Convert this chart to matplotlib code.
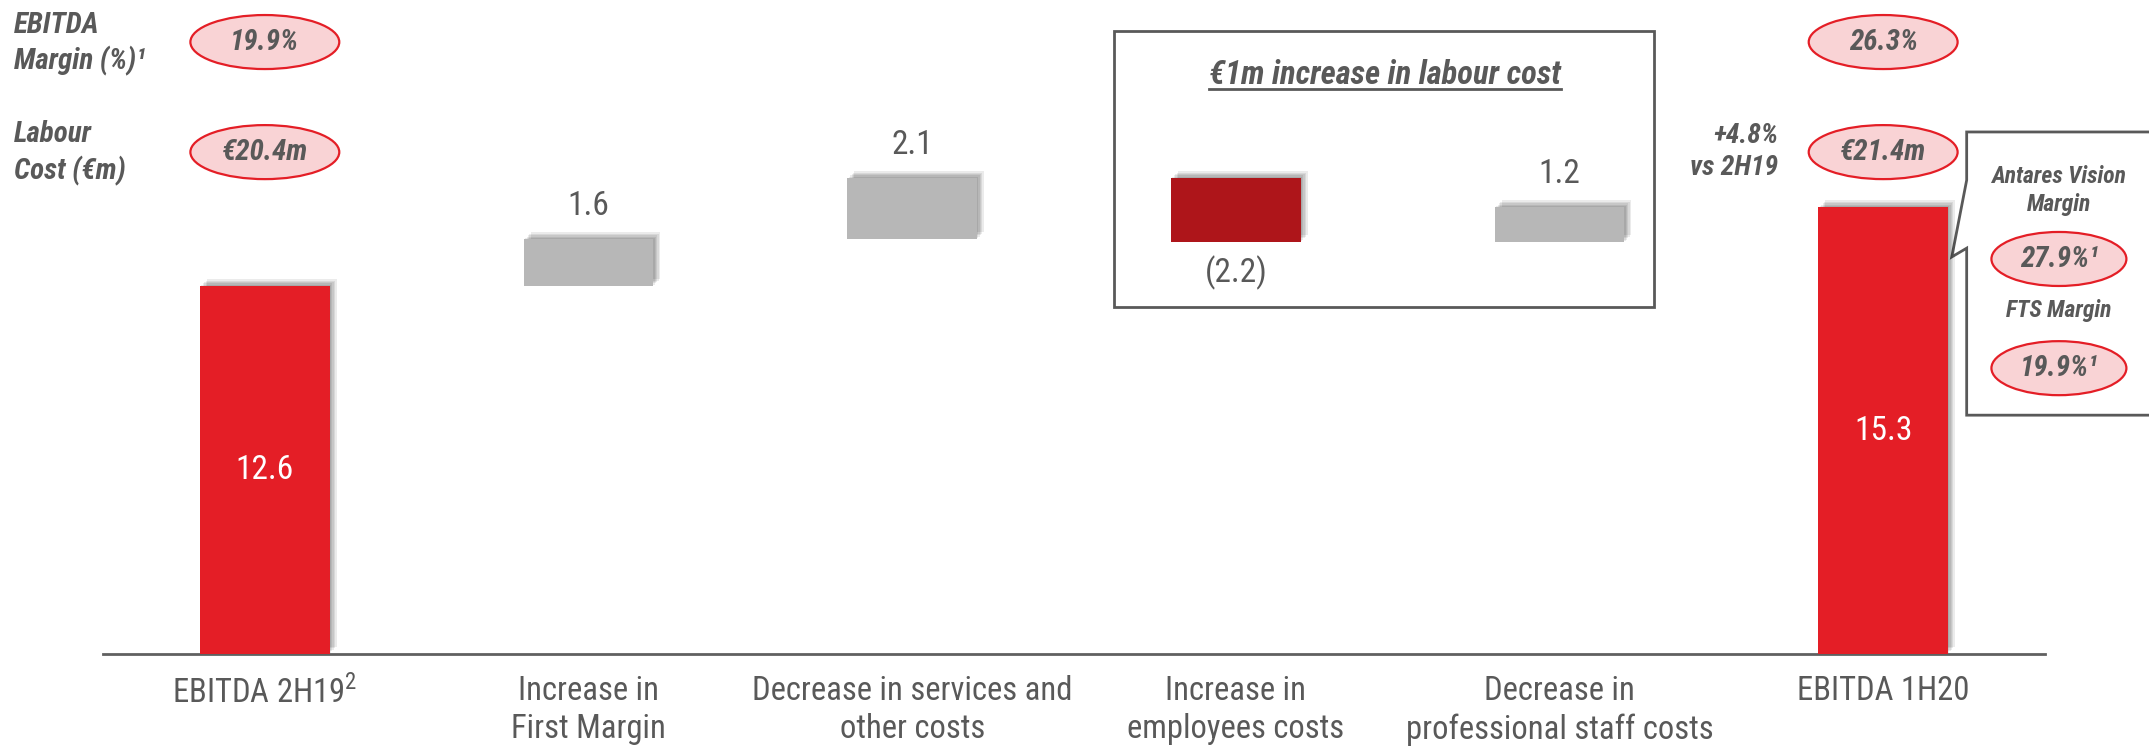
import matplotlib
matplotlib.use('Agg')
import matplotlib.pyplot as plt
import matplotlib.patheffects as pe
from matplotlib import font_manager
from matplotlib.patches import Ellipse, Rectangle, Polygon

# pick a condensed face if one is installed
names = {f.name for f in font_manager.fontManager.ttflist}
for cand in ['Roboto Condensed', 'Liberation Sans Narrow', 'Roboto']:
    if cand in names:
        FONT = cand
        break
else:
    FONT = 'DejaVu Sans'
plt.rcParams['font.family'] = [FONT, 'DejaVu Sans']
plt.rcParams['mathtext.fontset'] = 'custom'
plt.rcParams['mathtext.rm'] = FONT

# data
categories = ['EBITDA 2H19$^{2}$', 'Increase in\nFirst Margin', 'Decrease in services and\nother costs',
              'Increase in\nemployees costs', 'Decrease in\nprofessional staff costs', 'EBITDA 1H20']
values = [12.6, 1.6, 2.1, -2.2, 1.2, 15.3]
kinds = ['total', 'up', 'up', 'down', 'up', 'total']
value_labels = ['12.6', '1.6', '2.1', '(2.2)', '1.2', '15.3']

margin_labels = ['19.9%', '26.3%']
labour_labels = ['€20.4m', '€21.4m']
labour_change = '+4.8%\nvs 2H19'
av_margin = '27.9%¹'
fts_margin = '19.9%¹'

GREY_TXT = '#595959'
RED = '#E41E26'
DARK_RED = '#AE151A'
GREY_BAR = '#B7B7B7'
PINK = '#F9D3D5'
colors = {'total': RED, 'up': GREY_BAR, 'down': DARK_RED}

fig = plt.figure(figsize=(21.49, 7.49), dpi=100)
ax = fig.add_axes([103 / 2149, 95 / 749, 1942 / 2149, 654 / 749])
ax.set_xlim(-0.5, 5.5)
ax.set_ylim(0, 22.4)

# waterfall bottoms
bottoms = []
running = 0
for v, k in zip(values, kinds):
    if k == 'total':
        bottoms.append(0)
        running = v
    elif v >= 0:
        bottoms.append(running)
        running += v
    else:
        running += v
        bottoms.append(running)
heights = [abs(v) for v in values]

# soft drop shadow up and to the right
shadow = [pe.SimplePatchShadow(offset=(o, o), shadow_rgbFace='k', alpha=0.08) for o in (1, 2, 3, 4, 5)]
shadow.append(pe.Normal())
bars = ax.bar(range(len(values)), heights, bottom=bottoms, width=0.4,
              color=[colors[k] for k in kinds], zorder=3)
for b in bars:
    b.set_path_effects(shadow)

for i, (b, v, k, lab) in enumerate(zip(bottoms, values, kinds, value_labels)):
    if k == 'total':
        ax.text(i, b + abs(v) / 2, lab, ha='center', va='center', color='white', fontsize=24, zorder=5)
    elif v >= 0:
        ax.text(i, b + v + 1.15, lab, ha='center', va='center', color=GREY_TXT, fontsize=24, zorder=5)
    else:
        ax.text(i, b - 1.05, lab, ha='center', va='center', color=GREY_TXT, fontsize=24, zorder=5)

for s in ['top', 'right', 'left']:
    ax.spines[s].set_visible(False)
ax.spines['bottom'].set_color('#606060')
ax.spines['bottom'].set_linewidth(2)
ax.set_yticks([])
ax.set_xticks(range(len(categories)))
ax.set_xticklabels(categories, fontsize=23.5, color=GREY_TXT, linespacing=1.25)
ax.tick_params(axis='x', length=0, pad=15)


def pill(x, y, text, w=0.46, h=1.85, fs=21):
    ax.add_patch(Ellipse((x, y), w, h, facecolor=PINK, edgecolor=RED, lw=1.6, clip_on=False, zorder=4))
    ax.text(x, y, text, ha='center', va='center', fontsize=fs, color=GREY_TXT,
            fontweight='bold', style='italic', zorder=5, clip_on=False)


lbl = dict(ha='left', va='center', fontsize=21, color=GREY_TXT, fontweight='bold', style='italic', clip_on=False)
ax.text(-0.775, 21.55, 'EBITDA', **lbl)
ax.text(-0.775, 20.3, 'Margin (%)¹', **lbl)
ax.text(-0.775, 17.8, 'Labour', **lbl)
ax.text(-0.775, 16.55, 'Cost (€m)', **lbl)

for i, (m, l) in zip([0, 5], zip(margin_labels, labour_labels)):
    pill(i, 20.96, m)
    pill(i, 17.19, l)

ax.text(4.675, 17.2, labour_change, ha='right', va='center', fontsize=20, color=GREY_TXT,
        fontweight='bold', style='italic', linespacing=1.25)

# box around the labour cost items
ax.add_patch(Rectangle((2.623, 11.88), 4.291 - 2.623, 21.34 - 11.88, fill=False,
                       edgecolor=GREY_TXT, lw=2, clip_on=False, zorder=2))
title = ax.text(3.46, 19.83, '€1m increase in labour cost', ha='center', va='center', fontsize=23.5,
                color=GREY_TXT, fontweight='bold', style='italic')

# callout for the segment margins
call = [(5.258, 17.88), (6.2, 17.88), (6.2, 8.18), (5.258, 8.18), (5.258, 13.9),
        (5.212, 13.6), (5.258, 16.23)]
ax.add_patch(Polygon(call, closed=True, facecolor='white', edgecolor=GREY_TXT, lw=2,
                     clip_on=False, zorder=2))
ct = dict(ha='center', va='center', fontsize=17, color=GREY_TXT, fontweight='bold', style='italic')
ax.text(5.543, 16.34, 'Antares Vision', **ct)
ax.text(5.543, 15.41, 'Margin', **ct)
pill(5.543, 13.53, av_margin, w=0.417)
ax.text(5.543, 11.78, 'FTS Margin', **ct)
pill(5.543, 9.79, fts_margin, w=0.417)

# underline the box title
fig.canvas.draw()
bb = title.get_window_extent()
inv = ax.transData.inverted()
(x0, _), (x1, _) = inv.transform([(bb.x0, bb.y0), (bb.x1, bb.y0)])
ax.plot([x0, x1], [19.35, 19.35], color=GREY_TXT, lw=2, clip_on=False)

fig.savefig('out.png', dpi=100, facecolor='white')
